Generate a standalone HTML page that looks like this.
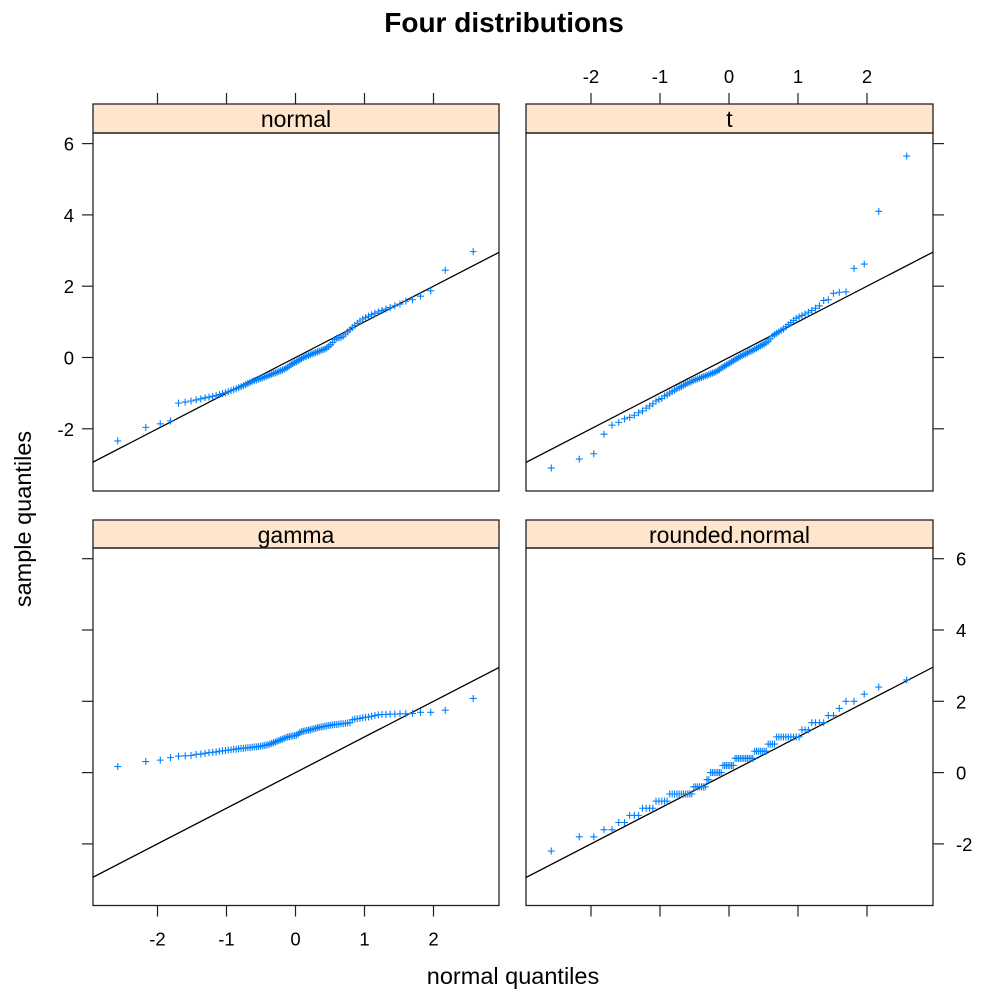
<!DOCTYPE html>
<html><head><meta charset="utf-8"><style>
html,body{margin:0;padding:0;background:#fff;}
svg{display:block;font-family:"Liberation Sans",sans-serif;}
</style></head><body>
<svg id="chart" width="1008" height="1008" viewBox="0 0 1008 1008">
<text x="504" y="32" font-size="28" font-weight="bold" text-anchor="middle">Four distributions</text>
<text x="513" y="984" font-size="23.5" text-anchor="middle">normal quantiles</text>
<text x="31" y="519" font-size="23.5" text-anchor="middle" transform="rotate(-90 31 519)">sample quantiles</text>
</svg>
<script>
const panelNames = ["normal", "t", "gamma", "rounded.normal"];
const normalValues = [-2.34,-1.96,-1.86,-1.78,-1.28,-1.25,-1.22,-1.19,-1.16,-1.13,
-1.11,-1.09,-1.07,-1.04,-1.01,-0.99,-0.96,-0.93,-0.90,-0.88,
-0.85,-0.82,-0.79,-0.76,-0.73,-0.70,-0.67,-0.65,-0.63,-0.61,
-0.59,-0.57,-0.55,-0.53,-0.51,-0.49,-0.47,-0.45,-0.43,-0.41,
-0.39,-0.37,-0.35,-0.33,-0.30,-0.27,-0.24,-0.20,-0.17,-0.14,
-0.12,-0.09,-0.06,-0.03,0.00,0.02,0.04,0.06,0.08,0.10,
0.12,0.14,0.16,0.18,0.20,0.22,0.24,0.27,0.31,0.36,
0.42,0.50,0.54,0.55,0.56,0.60,0.66,0.72,0.78,0.84,
0.90,0.96,1.02,1.08,1.12,1.16,1.20,1.24,1.28,1.32,
1.36,1.40,1.45,1.50,1.58,1.62,1.72,1.87,2.45,2.97];
const tValues = [-3.1,-2.85,-2.7,-2.15,-1.9,-1.82,-1.72,-1.68,-1.62,-1.55,
-1.50,-1.42,-1.36,-1.30,-1.22,-1.18,-1.15,-1.08,-1.05,-1.00,
-0.96,-0.92,-0.88,-0.85,-0.82,-0.78,-0.75,-0.72,-0.70,-0.67,
-0.64,-0.62,-0.60,-0.58,-0.56,-0.54,-0.52,-0.50,-0.48,-0.46,
-0.44,-0.42,-0.40,-0.37,-0.34,-0.30,-0.27,-0.24,-0.21,-0.18,
-0.15,-0.12,-0.09,-0.06,-0.03,0.00,0.03,0.05,0.08,0.10,
0.13,0.16,0.18,0.20,0.23,0.26,0.29,0.32,0.35,0.38,
0.42,0.46,0.52,0.60,0.64,0.68,0.72,0.76,0.80,0.86,
0.92,0.98,1.04,1.10,1.14,1.18,1.22,1.27,1.32,1.38,
1.45,1.60,1.62,1.80,1.83,1.84,2.50,2.62,4.10,5.65];
const gammaValues = [0.17,0.31,0.35,0.42,0.46,0.47,0.48,0.51,0.52,0.54,
0.56,0.57,0.58,0.60,0.61,0.62,0.63,0.64,0.65,0.66,
0.67,0.68,0.68,0.69,0.70,0.70,0.71,0.72,0.72,0.73,
0.74,0.75,0.76,0.77,0.78,0.80,0.82,0.84,0.86,0.88,
0.90,0.92,0.94,0.96,0.98,1.00,1.01,1.02,1.03,1.04,
1.05,1.08,1.12,1.15,1.16,1.17,1.18,1.19,1.20,1.22,
1.23,1.24,1.26,1.27,1.28,1.29,1.30,1.31,1.32,1.33,
1.34,1.35,1.35,1.36,1.37,1.37,1.38,1.39,1.40,1.48,
1.50,1.51,1.52,1.54,1.55,1.56,1.58,1.60,1.62,1.63,
1.63,1.64,1.64,1.65,1.65,1.66,1.69,1.69,1.75,2.08];
const roundedValues = [-2.2,-1.8,-1.8,-1.6,-1.6,-1.4,-1.4,-1.2,-1.2,-1.2,
-1.0,-1.0,-1.0,-1.0,-0.8,-0.8,-0.8,-0.8,-0.8,-0.6,
-0.6,-0.6,-0.6,-0.6,-0.6,-0.6,-0.6,-0.6,-0.6,-0.6,
-0.4,-0.4,-0.4,-0.4,-0.4,-0.4,-0.4,-0.2,-0.2,0.0,
0.0,0.0,0.0,0.0,0.0,0.0,0.2,0.2,0.2,0.2,
0.2,0.2,0.2,0.4,0.4,0.4,0.4,0.4,0.4,0.4,
0.4,0.4,0.4,0.4,0.6,0.6,0.6,0.6,0.6,0.6,
0.6,0.8,0.8,0.8,0.8,1.0,1.0,1.0,1.0,1.0,
1.0,1.0,1.0,1.0,1.0,1.2,1.2,1.2,1.4,1.4,
1.4,1.4,1.6,1.6,1.8,2.0,2.0,2.2,2.4,2.6];
const xTicks = [-2,-1,0,1,2];
const yTicks = [-2,0,2,4,6];
const lineIntercept = 0;
const lineSlope = 1;

const NS = "http://www.w3.org/2000/svg";
const svg = document.getElementById('chart');
function mk(tag, attrs, parent){const e=document.createElementNS(NS,tag);for(const k in attrs)e.setAttribute(k,attrs[k]);(parent||svg).appendChild(e);return e;}
function qnorm(p){const a=[-39.69683028665376,220.9460984245205,-275.9285104469687,138.357751867269,-30.66479806614716,2.506628277459239],b=[-54.47609879822406,161.5858368580409,-155.6989798598866,66.80131188771972,-13.28068155288572],c=[-0.007784894002430293,-0.3223964580411365,-2.400758277161838,-2.549732539343734,4.374664141464968,2.938163982698783],d=[0.007784695709041462,0.3224671290700398,2.445134137142996,3.754408661907416];const pl=0.02425;let q,r;if(p<pl){q=Math.sqrt(-2*Math.log(p));return(((((c[0]*q+c[1])*q+c[2])*q+c[3])*q+c[4])*q+c[5])/((((d[0]*q+d[1])*q+d[2])*q+d[3])*q+1);}if(p>1-pl){q=Math.sqrt(-2*Math.log(1-p));return-(((((c[0]*q+c[1])*q+c[2])*q+c[3])*q+c[4])*q+c[5])/((((d[0]*q+d[1])*q+d[2])*q+d[3])*q+1);}q=p-0.5;r=q*q;return(((((a[0]*r+a[1])*r+a[2])*r+a[3])*r+a[4])*r+a[5])*q/(((((b[0]*r+b[1])*r+b[2])*r+b[3])*r+b[4])*r+1);}

const panels = [
 {name:panelNames[0], vals:normalValues, x0:93, x1:499, st:104, pt:133, pb:491, yZero:357.5, yLeft:true, topTicks:true, leftTicks:true},
 {name:panelNames[1], vals:tValues, x0:526, x1:933, st:104, pt:133, pb:491, yZero:357.5, xTop:true, topTicks:true, rightTicks:true},
 {name:panelNames[2], vals:gammaValues, x0:93, x1:499, st:520, pt:548, pb:905.5, yZero:772.6, xBot:true, leftTicks:true, botTicks:true},
 {name:panelNames[3], vals:roundedValues, x0:526, x1:933, st:520, pt:548, pb:905.5, yZero:772.6, yRight:true, rightTicks:true, botTicks:true}
];
const pxX = 69, pxY = 35.65;
const tickFont = 18.5, stripFont = 23;
panels.forEach((P, idx) => {
  const g = mk('g', {});
  
  
  const cx = (P.x0 + P.x1) / 2 - 0.5;
  const X = v => cx + v * pxX;
  const Y = v => P.yZero - v * pxY;
  const clipId = 'clip' + idx;
  const cp = mk('clipPath', {id: clipId}, g);
  mk('rect', {x: P.x0, y: P.pt, width: P.x1 - P.x0, height: P.pb - P.pt}, cp);
  const strip = mk('rect', {x: P.x0, y: P.st, width: P.x1 - P.x0, height: P.pt - P.st, fill: '#ffe5cc', stroke: '#222', 'stroke-width': 1.3}, g);
  
  
  const st = mk('text', {x: (P.x0 + P.x1) / 2, y: P.st + 23, 'font-size': stripFont, 'text-anchor': 'middle'}, g);
  st.textContent = P.name;
  
  
  const frame = mk('rect', {x: P.x0, y: P.pt, width: P.x1 - P.x0, height: P.pb - P.pt, fill: 'none', stroke: '#222', 'stroke-width': 1.3}, g);
  
  
  const xa = -4, xb = 4;
  const ln = mk('line', {x1: X(xa), y1: Y(lineIntercept + lineSlope * xa), x2: X(xb), y2: Y(lineIntercept + lineSlope * xb), stroke: '#000', 'stroke-width': 1.3, 'clip-path': 'url(#' + clipId + ')'}, g);
  
  
  const n = P.vals.length;
  P.vals.forEach((v, i) => {
    const q = qnorm((i + 1 - 0.5) / n);
    const px = X(q), py = Y(v);
    const pt = mk('path', {d: `M${px-3.5},${py}H${px+3.5}M${px},${py-3.5}V${py+3.5}`, stroke: '#0080ff', 'stroke-width': 1.1, fill: 'none'}, g);
    
    
  });
  xTicks.forEach(t => {
    if (P.topTicks) { const tk = mk('line', {x1: X(t), x2: X(t), y1: P.st, y2: P.st - 11, stroke: '#222', 'stroke-width': 1.2}, g);   }
    if (P.botTicks) { const tk = mk('line', {x1: X(t), x2: X(t), y1: P.pb, y2: P.pb + 11, stroke: '#222', 'stroke-width': 1.2}, g);   }
    if (P.xTop) { const tl = mk('text', {x: X(t), y: P.st - 21, 'font-size': tickFont, 'text-anchor': 'middle'}, g); tl.textContent = t;   }
    if (P.xBot) { const tl = mk('text', {x: X(t), y: P.pb + 40, 'font-size': tickFont, 'text-anchor': 'middle'}, g); tl.textContent = t;   }
  });
  yTicks.forEach(t => {
    if (P.leftTicks) { const tk = mk('line', {x1: P.x0, x2: P.x0 - 11, y1: Y(t), y2: Y(t), stroke: '#222', 'stroke-width': 1.2}, g);   }
    if (P.rightTicks) { const tk = mk('line', {x1: P.x1, x2: P.x1 + 11, y1: Y(t), y2: Y(t), stroke: '#222', 'stroke-width': 1.2}, g);   }
    if (P.yLeft) { const tl = mk('text', {x: P.x0 - 19, y: Y(t) + 7, 'font-size': tickFont, 'text-anchor': 'end'}, g); tl.textContent = t;   }
    if (P.yRight) { const tl = mk('text', {x: P.x1 + 23, y: Y(t) + 7, 'font-size': tickFont, 'text-anchor': 'start'}, g); tl.textContent = t;   }
  });
});
</script>
</body></html>
